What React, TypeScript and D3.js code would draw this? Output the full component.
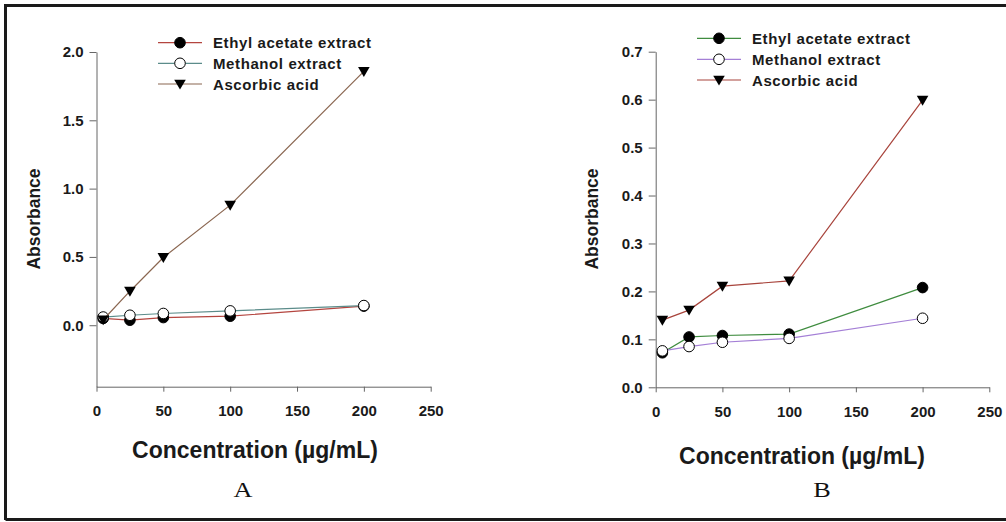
import React, { useEffect, useRef } from 'react';
import * as d3 from 'd3';

const concentrations = [5, 25, 50, 100, 200];
const xTicks = [0, 50, 100, 150, 200, 250];

const ethylA = [0.05, 0.037, 0.056, 0.066, 0.14];
const methanolA = [0.06, 0.073, 0.086, 0.105, 0.144];
const ascorbicA = [0.04, 0.249, 0.496, 0.879, 1.858];
const yTicksA = [0, 0.5, 1.0, 1.5, 2.0];

const ethylB = [0.072, 0.105, 0.108, 0.111, 0.208];
const methanolB = [0.076, 0.085, 0.094, 0.102, 0.144];
const ascorbicB = [0.14, 0.161, 0.211, 0.222, 0.599];
const yTicksB = [0, 0.1, 0.2, 0.3, 0.4, 0.5, 0.6, 0.7];

const seriesNames = ['Ethyl acetate extract', 'Methanol extract', 'Ascorbic acid'];
const markers = ['filled', 'open', 'triangle'];

const FONT = '"Liberation Sans", Arial, sans-serif';

interface PanelCfg {
  xRange: [number, number];
  yDomain: [number, number];
  yRange: [number, number];
  yTicks: number[];
  series: number[][];
  colors: string[];
  legend: { x0: number; x1: number; mx: number; tx: number; rows: number[] };
  yTitle: [number, number];
  xTitle: [number, number];
  tag: string;
  tagPos: [number, number];
}

const panels: PanelCfg[] = [
  {
    xRange: [96.5, 430.7],
    yDomain: [-0.45, 2.0],
    yRange: [386.7, 52],
    yTicks: yTicksA,
    series: [ethylA, methanolA, ascorbicA],
    colors: ['#b4453f', '#5b8c8a', '#8a6650'],
    legend: { x0: 158, x1: 202, mx: 180, tx: 213, rows: [42.7, 63.3, 84] },
    yTitle: [34, 219],
    xTitle: [255, 450],
    tag: 'A',
    tagPos: [243, 497],
  },
  {
    xRange: [655.7, 989.3],
    yDomain: [0, 0.7],
    yRange: [387.3, 51.7],
    yTicks: yTicksB,
    series: [ethylB, methanolB, ascorbicB],
    colors: ['#3f8c3f', '#a47fd6', '#a8443c'],
    legend: { x0: 697, x1: 741, mx: 719, tx: 752, rows: [38.3, 59.3, 80] },
    yTitle: [592, 219],
    xTitle: [802, 456],
    tag: 'B',
    tagPos: [822, 497],
  },
];

const drawMarker = (
  g: d3.Selection<SVGGElement, unknown, null, undefined>,
  kind: string,
  x: number,
  y: number
) => {
  if (kind === 'triangle') {
    const s = 5.8;
    g.append('path')
      .attr('d', `M${x - s},${y - s * 0.75}L${x + s},${y - s * 0.75}L${x},${y + s * 0.95}Z`)
      .attr('fill', '#000');
  } else {
    g.append('circle')
      .attr('cx', x)
      .attr('cy', y)
      .attr('r', 5.3)
      .attr('fill', kind === 'filled' ? '#000' : '#fff')
      .attr('stroke', '#000')
      .attr('stroke-width', 1);
  }
};

const App: React.FC = () => {
  const chartRef = useRef<SVGSVGElement>(null);

  useEffect(() => {
    const svg = d3.select(chartRef.current);
    svg.selectAll('*').remove();

    svg.append('rect').attr('width', 1006).attr('height', 522).attr('fill', '#fff');
    svg.append('path')
      .attr('d', 'M5.5,520 L5.5,5.5 L1012,5.5 M5.5,519.5 L1012,519.5')
      .attr('fill', 'none')
      .attr('stroke', '#1a1a1a')
      .attr('stroke-width', 3);

    panels.forEach(p => {
      const x = d3.scaleLinear().domain([0, 250]).range(p.xRange);
      const y = d3.scaleLinear().domain(p.yDomain).range(p.yRange);
      const g = svg.append('g');

      const yAxis = g.append('g')
        .attr('transform', `translate(${p.xRange[0]},0)`)
        .call(d3.axisLeft(y).tickValues(p.yTicks).tickFormat(d3.format('.1f')).tickSize(7).tickSizeOuter(0).tickPadding(6));
      const xAxis = g.append('g')
        .attr('transform', `translate(0,${p.yRange[0]})`)
        .call(d3.axisBottom(x).tickValues(xTicks).tickFormat(d3.format('d')).tickSize(5).tickSizeOuter(0).tickPadding(14));

      [yAxis, xAxis].forEach(a => {
        a.select('.domain').attr('stroke', '#666');
        a.selectAll('.tick line').attr('stroke', '#666');
        a.selectAll('.tick text')
          .attr('fill', '#1a1a1a')
          .style('font-family', FONT)
          .style('font-weight', 'bold')
          .style('font-size', '15px');
      });

      p.series.forEach((vals, i) => {
        const line = d3.line<number>()
          .x((_, j) => x(concentrations[j]))
          .y(d => y(d));
        g.append('path')
          .attr('d', line(vals))
          .attr('fill', 'none')
          .attr('stroke', p.colors[i])
          .attr('stroke-width', 1.2);
        vals.forEach((v, j) => drawMarker(g, markers[i], x(concentrations[j]), y(v)));
      });

      // legend
      seriesNames.forEach((name, i) => {
        const ry = p.legend.rows[i];
        g.append('line')
          .attr('x1', p.legend.x0).attr('x2', p.legend.x1)
          .attr('y1', ry).attr('y2', ry)
          .attr('stroke', p.colors[i])
          .attr('stroke-width', 1.2);
        drawMarker(g, markers[i], p.legend.mx, ry);
        g.append('text')
          .attr('x', p.legend.tx)
          .attr('y', ry + 5.5)
          .attr('fill', '#1a1a1a')
          .style('font-family', FONT)
          .style('font-weight', 'bold')
          .style('font-size', '15px')
          .style('letter-spacing', '0.6px')
          .text(name);
      });

      g.append('text')
        .attr('transform', `translate(${p.yTitle[0]},${p.yTitle[1]}) rotate(-90)`)
        .attr('text-anchor', 'middle')
        .attr('dy', '0.35em')
        .attr('fill', '#1a1a1a')
        .style('font-family', FONT)
        .style('font-weight', 'bold')
        .style('font-size', '17.5px')
        .text('Absorbance');

      g.append('text')
        .attr('x', p.xTitle[0])
        .attr('y', p.xTitle[1])
        .attr('text-anchor', 'middle')
        .attr('dy', '0.35em')
        .attr('fill', '#1a1a1a')
        .style('font-family', FONT)
        .style('font-weight', 'bold')
        .style('font-size', '23px')
        .text('Concentration (µg/mL)');

      g.append('text')
        .attr('transform', `translate(${p.tagPos[0]},${p.tagPos[1]}) scale(1.25,1)`)
        .attr('text-anchor', 'middle')
        .attr('fill', '#111')
        .style('font-family', '"Liberation Serif", "Times New Roman", serif')
        .style('font-size', '21px')
        .text(p.tag);
    });
  }, []);

  return (
    <svg
      ref={chartRef}
      width={1006}
      height={522}
      style={{ position: 'absolute', left: 0, top: 0 }}
    ></svg>
  );
};

export default App;
